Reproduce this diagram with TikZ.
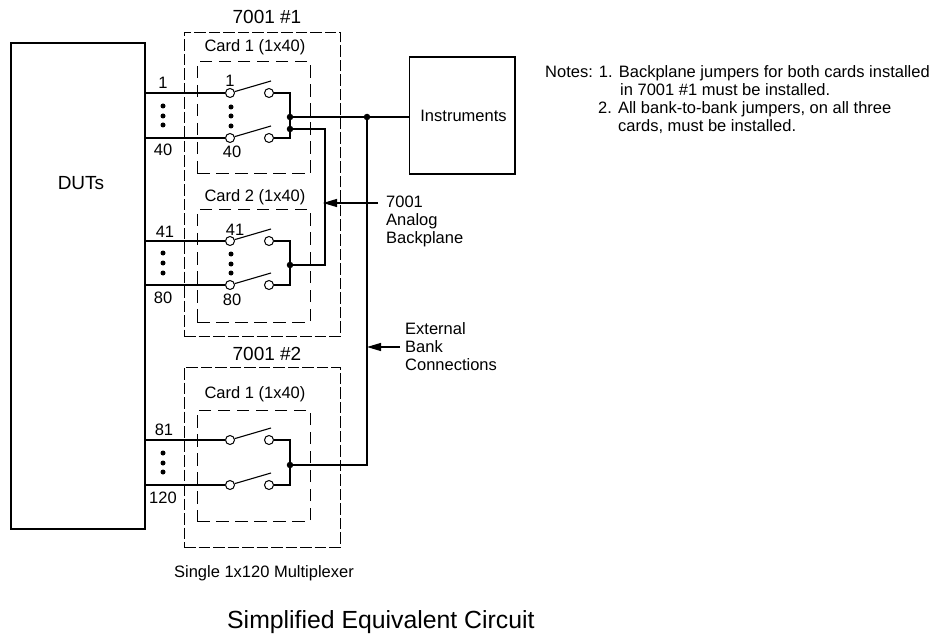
\documentclass[tikz,border=0pt]{standalone}
\usepackage{fontspec}
\setmainfont{Liberation Sans}
\usetikzlibrary{arrows.meta}
\tikzset{
  wire/.style={line width=1.1pt},
  contact/.style={circle,draw=black,fill=white,line width=1pt,inner sep=0pt,minimum size=9pt},
  junction/.style={circle,fill=black,inner sep=0pt,minimum size=6.5pt},
  dot/.style={circle,fill=black,inner sep=0pt,minimum size=5pt},
  chassis/.style={draw=black,line width=0.9pt,dash pattern=on 11.5pt off 3pt,inner sep=0pt},
  cardbox/.style={draw=black,line width=1pt,dash pattern=on 12.5pt off 6.5pt,inner sep=0pt},
  solidbox/.style={draw=black,line width=1.1pt,inner sep=0pt},
  pointer/.style={wire,-{Triangle[length=14pt,width=8pt]}},
  bigtext/.style={font=\fontsize{19}{22}\selectfont}
}
\begin{document}
\begin{tikzpicture}
[x=1pt,y=-1pt,every node/.style={font=\fontsize{16.5}{18}\selectfont,inner sep=0pt}]
\useasboundingbox (0,0) rectangle (936,636);
% boxes
\node[solidbox,minimum width=134pt,minimum height=486pt] (duts) at (78,286) {};
\node[bigtext] (dutsname) at (81,183) {DUTs};
\node[solidbox,minimum width=105.5pt,minimum height=117pt] (instruments) at (462.25,115.5) {};
\node (instrumentsname) at (463.5,116) {Instruments};
\node[chassis,minimum width=156pt,minimum height=304pt] (unitA) at (262,184) {};
\node[chassis,minimum width=156pt,minimum height=180pt] (unitB) at (262,457) {};
\node[cardbox,minimum width=113pt,minimum height=112pt] (cardA) at (253.5,118) {};
\node[cardbox,minimum width=113pt,minimum height=112pt] (cardB) at (253.5,266) {};
\node[cardbox,minimum width=113pt,minimum height=111pt] (cardC) at (253.5,465.5) {};
% switches, one pair per card
\foreach \c/\ya/\yb/\yj in {A/93/138/117,B/241/285/265,C/440/485/465}
{
  \node[contact] (\c in1) at (230,\ya) {};
  \node[contact] (\c in2) at (230,\yb) {};
  \node[contact] (\c out1) at (269,\ya) {};
  \node[contact] (\c out2) at (269,\yb) {};
  \node[junction] (\c join) at (290,\yj) {};
  \coordinate (\c arm1) at (271,\ya-12);
  \coordinate (\c arm2) at (271,\yb-12);
  \coordinate (\c bend1) at (290,\ya);
  \coordinate (\c bend2) at (290,\yb);
  \draw[wire] (duts.east |- \c in1) to (\c in1);
  \draw[wire] (duts.east |- \c in2) to (\c in2);
  \draw[wire] (\c in1) to (\c arm1);
  \draw[wire] (\c in2) to (\c arm2);
  \draw[wire] (\c out1) to (\c bend1) to (\c bend2) to (\c out2);
}
% dots on the left, then inside the cards
\foreach \d/\y in {a/106,b/116,c/125,d/253,e/263,f/273,g/453,h/463,i/472}
{
  \node[dot] (left\d) at (163,\y) {};
}
\foreach \d/\y in {a/107,b/116,c/126,d/254,e/264,f/273}
{
  \node[dot] (inner\d) at (231,\y) {};
}
% wiring between cards
\node[junction] (bus) at (367,117) {};
\node[junction] (Ajoin2) at (290,129) {};
\coordinate (backA) at (325,129);
\coordinate (backB) at (325,265);
\coordinate (extC) at (367,465);
\draw[wire] (Ajoin) to (bus);
\draw[wire] (bus) to (bus -| instruments.west);
\draw[wire] (Ajoin2) to (backA) to (backB) to (Bjoin);
\draw[wire] (bus) to (extC) to (Cjoin);
% labels
\node[bigtext] (unitAname) at (267,17) {7001 \#1};
\node[bigtext] (unitBname) at (267,354) {7001 \#2};
\node (cardAname) at (255,47) {Card 1 (1x40)};
\node (cardBname) at (255,197) {Card 2 (1x40)};
\node (cardCname) at (255,394) {Card 1 (1x40)};
\foreach \t/\x/\y in {1/163/83,40/163/150,1/230/81,40/232/152,41/165/232,80/163/298,41/235/230,80/232/300,81/164/430,120/163/498}
{
  \node (wire\t at \x) at (\x,\y) {\t};
}
\node[anchor=west,align=left,inner sep=8pt] (analog) at (378,221) {7001\\Analog\\Backplane};
\node[anchor=west,align=left,inner sep=5pt] (external) at (400,347) {External\\Bank\\Connections};
\coordinate (analogtip) at (323,203);
\coordinate (externaltip) at (367,347);
\draw[pointer] (analog.west |- analogtip) to (analogtip);
\draw[pointer] (external.west |- externaltip) to (externaltip);
\node[anchor=base west] (noteA) at (545,78) {Notes: 1. Backplane jumpers for both cards installed};
\node[anchor=base west] (noteB) at (620,96) {in 7001 \#1 must be installed.};
\node[anchor=base west] (noteC) at (598,114) {2. All bank-to-bank jumpers, on all three};
\node[anchor=base west] (noteD) at (618,132) {cards, must be installed.};
\node (caption) at (264,573) {Single 1x120 Multiplexer};
\node[font=\fontsize{24.8}{28}\selectfont,anchor=west] (title) at (227,622) {Simplified Equivalent Circuit};
\end{tikzpicture}
\end{document}
